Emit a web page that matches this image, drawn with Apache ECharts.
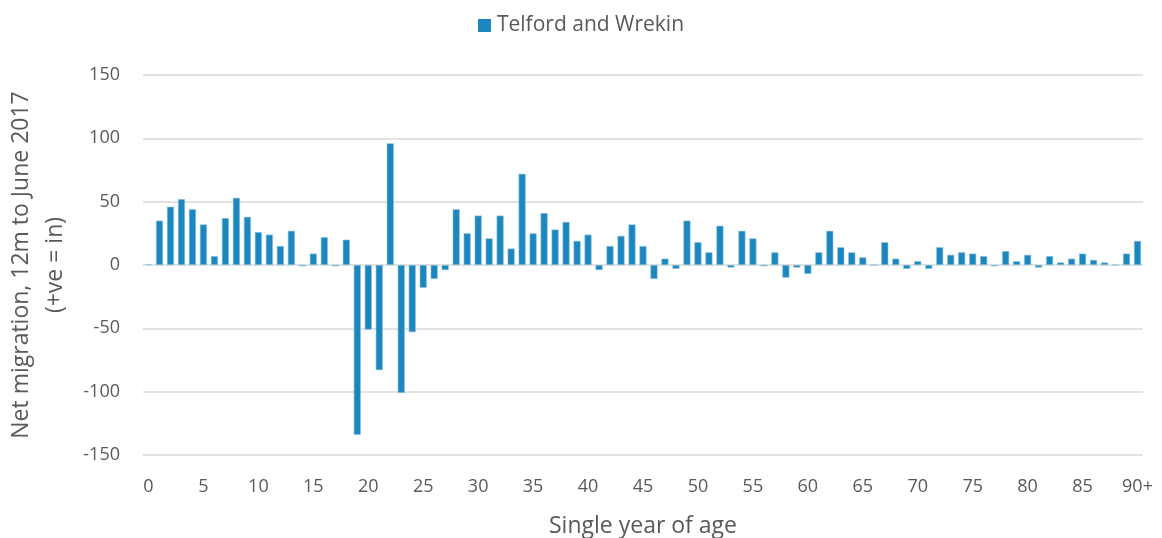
<!DOCTYPE html>
<html>
<head>
<meta charset="utf-8">
<script src="https://cdn.jsdelivr.net/npm/echarts@6/dist/echarts.min.js"></script>
<style>
html, body { margin: 0; padding: 0; background: #fff; }
#main { width: 1162px; height: 538px; }
</style>
</head>
<body>
<div id="main"></div>
<script>
var ages = [];
for (var i = 0; i < 90; i++) ages.push(String(i));
ages.push('90+');

var netMigration = [
    0.5, 35, 46, 52, 44, 32, 7, 37, 53, 38,
    26, 24, 15, 27, -1, 9, 22, -1, 20, -134,
    -51, -83, 96, -101, -53, -18, -11, -4, 44, 25,
    39, 21, 39, 13, 72, 25, 41, 28, 34, 19,
    24, -4, 15, 23, 32, 15, -11, 5, -3, 35,
    18, 10, 31, -2, 27, 21, -1, 10, -10, -2,
    -7, 10, 27, 14, 10, 6, 0, 18, 5, -3,
    3, -3, 14, 8, 10, 9, 7, -1, 11, 3,
    8, -2, 7, 2, 5, 9, 4, 2, 0, 9,
    19
];

var seriesName = 'Telford and Wrekin';
var yTicks = { min: -150, max: 150, interval: 50 };

var font = '"Open Sans", "Noto Sans", sans-serif';
var textColor = '#595959';

var myChart = echarts.init(document.getElementById('main'));
var option = {
    backgroundColor: '#fff',
    animation: false,
    textStyle: { fontFamily: font },
    legend: {
        top: 10,
        left: 'center',
        itemWidth: 13,
        itemHeight: 13,
        itemGap: 4,
        icon: 'rect',
        itemStyle: { borderWidth: 0 },
        textStyle: { color: textColor, fontSize: 21, fontFamily: font, padding: [0, 0, 0, 1] },
        data: [seriesName]
    },
    grid: {
        left: 143,
        right: 19,
        top: 75,
        bottom: 83,
        containLabel: false,
        outerBoundsMode: 'none'
    },
    xAxis: {
        type: 'category',
        data: ages,
        name: 'Single year of age',
        nameLocation: 'middle',
        nameGap: 60,
        nameTextStyle: { color: textColor, fontSize: 23, fontFamily: font },
        axisLine: { show: false, onZero: false },
        axisTick: { show: false },
        axisLabel: {
            interval: 4,
            color: textColor,
            fontSize: 18,
            margin: 23,
            fontFamily: font
        }
    },
    yAxis: {
        type: 'value',
        min: yTicks.min,
        max: yTicks.max,
        interval: yTicks.interval,
        name: 'Net migration, 12m to June 2017\n(+ve = in)',
        nameLocation: 'middle',
        nameGap: 64,
        nameTextStyle: { color: textColor, fontSize: 23, lineHeight: 34, fontFamily: font },
        axisLine: { show: false },
        axisTick: { show: false },
        axisLabel: { color: textColor, fontSize: 18, margin: 23, fontFamily: font },
        splitLine: { lineStyle: { color: '#d9d9d9', width: 1.5 } }
    },
    series: [{
        name: seriesName,
        type: 'bar',
        data: netMigration,
        barCategoryGap: '36%',
        itemStyle: {
            color: '#1b87be',
            borderColor: '#8cc3de',
            borderWidth: 0.6
        }
    }]
};
myChart.setOption(option);
</script>
</body>
</html>
